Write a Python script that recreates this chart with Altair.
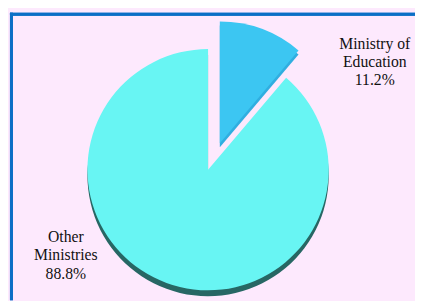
import altair as alt
import pandas as pd

# Data
categories = ["Ministry of Education", "Other Ministries"]
shares = [11.2, 88.8]
order_idx = [0, 1]
label_texts = ["Ministry of\nEducation\n11.2%", "Other\nMinistries\n88.8%"]

df = pd.DataFrame({"name": categories, "share": shares, "idx": order_idx, "label": label_texts})

BG = "#fde9fd"
BORDER = "#0b6fc6"
MAIN = "#68f5f3"
MAIN_SIDE = "#276764"
EDU = "#3cc6f2"
EDU_SIDE = "#30aee0"

base = alt.Chart(df).encode(
    theta=alt.Theta("share:Q", stack=True),
    order=alt.Order("idx:O"),
)

is_other = alt.datum.name == "Other Ministries"
is_edu = alt.datum.name == "Ministry of Education"

R = 123
CX, CY = 202, 160
EX, EY = 214, 133

shadow = base.mark_arc(radius=R, fill=MAIN_SIDE).encode(
    x=alt.value(CX), y=alt.value(CY + 6),
    opacity=alt.when(is_other).then(alt.value(1)).otherwise(alt.value(0)),
)
main = base.mark_arc(radius=R, fill=MAIN).encode(
    x=alt.value(CX), y=alt.value(CY),
    opacity=alt.when(is_other).then(alt.value(1)).otherwise(alt.value(0)),
)
edu_side = base.mark_arc(radius=R + 1, fill=EDU_SIDE).encode(
    x=alt.value(EX), y=alt.value(EY + 4),
    opacity=alt.when(is_edu).then(alt.value(1)).otherwise(alt.value(0)),
)
edu = base.mark_arc(radius=R + 1, fill=EDU).encode(
    x=alt.value(EX), y=alt.value(EY),
    opacity=alt.when(is_edu).then(alt.value(1)).otherwise(alt.value(0)),
)

text_style = dict(font="Liberation Serif", fontSize=16, lineBreak="\n", lineHeight=18.5,
                  align="center", baseline="middle", color="#111111")

edu_label = alt.Chart(df).transform_filter(is_edu).mark_text(**text_style).encode(
    text="label:N", x=alt.value(372), y=alt.value(32)
)
other_label = alt.Chart(df).transform_filter(is_other).mark_text(**text_style).encode(
    text="label:N", x=alt.value(57), y=alt.value(229)
)

border_top = alt.Chart(df).mark_rule(color=BORDER, strokeWidth=3).encode(
    x=alt.value(0), x2=alt.value(415), y=alt.value(1.5)
)
border_left = alt.Chart(df).mark_rule(color=BORDER, strokeWidth=3).encode(
    x=alt.value(1.5), y=alt.value(0), y2=alt.value(293)
)

chart = alt.layer(shadow, main, edu_side, edu, edu_label, other_label, border_top, border_left).properties(
    width=415, height=293,
    autosize=alt.AutoSizeParams(type="fit", contains="padding"),
    padding=0,
    background=BG,
).configure_view(stroke=None)

chart.save("out.html", embed_options={"renderer": "svg", "actions": False})
